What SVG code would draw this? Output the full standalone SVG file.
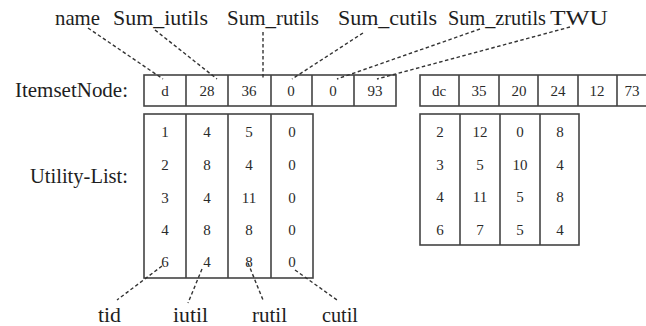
<svg xmlns="http://www.w3.org/2000/svg" width="646" height="326" viewBox="0 0 646 326">
<style>
.lbl{font-family:"Liberation Serif","Times New Roman",serif;font-size:21px;fill:#1e1e1e}
.v{font-family:"Liberation Serif","Times New Roman",serif;font-size:15px;fill:#2a2a2a;text-anchor:middle}
.box{fill:#fff;stroke:#444;stroke-width:1.6}
.div{stroke:#444;stroke-width:1.6}
.dash{fill:none;stroke:#333;stroke-width:1.4;stroke-dasharray:3.5 2.5}
</style>
<rect width="646" height="326" fill="#fff"/>
<g id="labels">
<text class="lbl" x="55" y="25" textLength="45" lengthAdjust="spacingAndGlyphs">name</text>
<text class="lbl" x="113" y="25" textLength="95" lengthAdjust="spacingAndGlyphs">Sum_iutils</text>
<text class="lbl" x="227" y="25" textLength="92" lengthAdjust="spacingAndGlyphs">Sum_rutils</text>
<text class="lbl" x="338" y="25" textLength="99" lengthAdjust="spacingAndGlyphs">Sum_cutils</text>
<text class="lbl" x="448" y="25" textLength="98" lengthAdjust="spacingAndGlyphs">Sum_zrutils</text>
<text class="lbl" x="550" y="25" textLength="58" lengthAdjust="spacingAndGlyphs">TWU</text>
<text class="lbl" x="15" y="97" textLength="113" lengthAdjust="spacingAndGlyphs">ItemsetNode:</text>
<text class="lbl" x="30" y="183" textLength="98" lengthAdjust="spacingAndGlyphs">Utility-List:</text>
<text class="lbl" x="98" y="322" textLength="23" lengthAdjust="spacingAndGlyphs">tid</text>
<text class="lbl" x="173" y="322" textLength="35" lengthAdjust="spacingAndGlyphs">iutil</text>
<text class="lbl" x="252" y="322" textLength="35" lengthAdjust="spacingAndGlyphs">rutil</text>
<text class="lbl" x="322" y="322" textLength="36" lengthAdjust="spacingAndGlyphs">cutil</text>
</g>
<g id="itemsetnode-d">
<rect class="box" x="144" y="75" width="252" height="31"/>
<path class="div" d="M186 75V106M228 75V106M271 75V106M312 75V106M354 75V106"/>
<text class="v" x="165" y="96">d</text>
<text class="v" x="207" y="96">28</text>
<text class="v" x="249" y="96">36</text>
<text class="v" x="291" y="96">0</text>
<text class="v" x="333" y="96">0</text>
<text class="v" x="375" y="96">93</text>
</g>
<g id="itemsetnode-dc">
<rect class="box" x="420" y="75" width="240" height="31"/>
<path class="div" d="M459 75V106M499 75V106M538 75V106M578 75V106M617 75V106"/>
<text class="v" x="439" y="96">dc</text>
<text class="v" x="479" y="96">35</text>
<text class="v" x="519" y="96">20</text>
<text class="v" x="558" y="96">24</text>
<text class="v" x="597" y="96">12</text>
<text class="v" x="632" y="96">73</text>
</g>
<g id="utilitylist-d">
<rect class="box" x="144" y="114" width="169" height="164"/>
<path class="div" d="M186 114V278M228 114V278M271 114V278"/>
<g>
<text class="v" x="165" y="137">1</text><text class="v" x="207" y="137">4</text><text class="v" x="249" y="137">5</text><text class="v" x="292" y="137">0</text>
<text class="v" x="165" y="170">2</text><text class="v" x="207" y="170">8</text><text class="v" x="249" y="170">4</text><text class="v" x="292" y="170">0</text>
<text class="v" x="165" y="203">3</text><text class="v" x="207" y="203">4</text><text class="v" x="249" y="203">11</text><text class="v" x="292" y="203">0</text>
<text class="v" x="165" y="235">4</text><text class="v" x="207" y="235">8</text><text class="v" x="249" y="235">8</text><text class="v" x="292" y="235">0</text>
<text class="v" x="165" y="267">6</text><text class="v" x="207" y="267">4</text><text class="v" x="249" y="267">8</text><text class="v" x="292" y="267">0</text>
</g>
</g>
<g id="utilitylist-dc">
<rect class="box" x="420" y="114" width="159" height="131"/>
<path class="div" d="M460 114V245M500 114V245M540 114V245"/>
<text class="v" x="440" y="137">2</text><text class="v" x="480" y="137">12</text><text class="v" x="520" y="137">0</text><text class="v" x="560" y="137">8</text>
<text class="v" x="440" y="170">3</text><text class="v" x="480" y="170">5</text><text class="v" x="520" y="170">10</text><text class="v" x="560" y="170">4</text>
<text class="v" x="440" y="202">4</text><text class="v" x="480" y="202">11</text><text class="v" x="520" y="202">5</text><text class="v" x="560" y="202">8</text>
<text class="v" x="440" y="235">6</text><text class="v" x="480" y="235">7</text><text class="v" x="520" y="235">5</text><text class="v" x="560" y="235">4</text>
</g>
<g id="connectors">
<path class="dash" d="M88 28L163 79"/>
<path class="dash" d="M155 30L217 79"/>
<path class="dash" d="M263 32V80"/>
<path class="dash" d="M363 33L292 79"/>
<path class="dash" d="M480 29L337 79"/>
<path class="dash" d="M570 27L377 79"/>
<path class="dash" d="M162 266L117 300"/>
<path class="dash" d="M202 269L188 303"/>
<path class="dash" d="M248 263L263 300"/>
<path class="dash" d="M295 270L337 300"/>
</g>
</svg>
